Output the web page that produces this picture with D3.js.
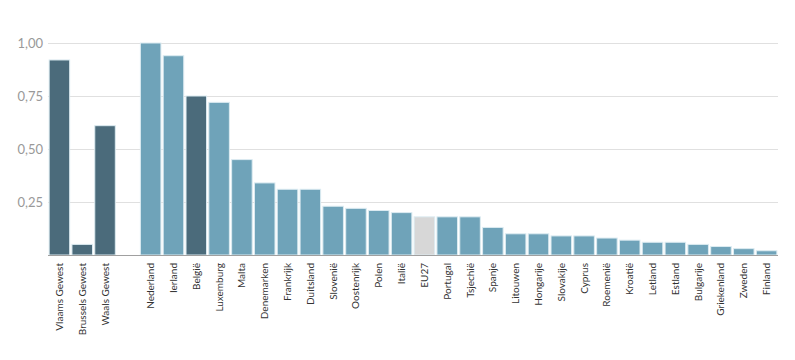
<!DOCTYPE html>
<html><head><meta charset="utf-8">
<script src="https://cdn.jsdelivr.net/npm/d3@7"></script>
<style>body{margin:0;background:#fff;}svg{display:block;font-family:Lato,"Open Sans",sans-serif;}</style>
</head><body>
<svg id="c" width="795" height="360"></svg>
<script>
const categories = ["Vlaams Gewest","Brussels Gewest","Waals Gewest","","Nederland","Ierland","België","Luxemburg","Malta","Denemarken","Frankrijk","Duitsland","Slovenië","Oostenrijk","Polen","Italië","EU27","Portugal","Tsjechië","Spanje","Litouwen","Hongarije","Slovakije","Cyprus","Roemenië","Kroatië","Letland","Estland","Bulgarije","Griekenland","Zweden","Finland"];
const values = [0.92,0.05,0.61,null,1.00,0.94,0.75,0.72,0.45,0.34,0.31,0.31,0.23,0.22,0.21,0.20,0.18,0.18,0.18,0.13,0.10,0.10,0.09,0.09,0.08,0.07,0.06,0.06,0.05,0.04,0.03,0.02];
const groups = ["be","be","be",null,"eu","eu","be","eu","eu","eu","eu","eu","eu","eu","eu","eu","avg","eu","eu","eu","eu","eu","eu","eu","eu","eu","eu","eu","eu","eu","eu","eu"];
const yTicks = [0.25,0.50,0.75,1.00];

const colors = {be:"#4b6b7b", eu:"#6fa3b9", avg:"#d7d7d7"};
const svg = d3.select("#c");
const m = {l:48, r:17, t:43, b:105};
const W = 795, H = 360;
const x = d3.scaleBand().domain(categories.map((d,i)=>i)).range([m.l, W-m.r]).paddingInner(0.1).paddingOuter(0.05);
const y = d3.scaleLinear().domain([0,1]).range([H-m.b, m.t]);

const g = svg.append("g");
g.selectAll("line.grid").data(yTicks).join("line")
  .attr("x1", m.l).attr("x2", W-m.r)
  .attr("y1", d=>y(d)+0.5).attr("y2", d=>y(d)+0.5)
  .attr("stroke", "#e0e0e0").attr("stroke-width",1);
g.selectAll("text.yl").data(yTicks).join("text")
  .attr("x", m.l-5).attr("y", d=>y(d)).attr("dy","0.35em")
  .attr("text-anchor","end").attr("fill","#999").attr("font-size",13)
  .text(d=>d3.format(".2f")(d).replace(".",","));

const data = categories.map((c,i)=>({c, v:values[i], g:groups[i], i})).filter(d=>d.v!==null);
g.selectAll("rect").data(data).join("rect")
  .attr("x", d=>x(d.i)).attr("width", x.bandwidth())
  .attr("y", d=>y(d.v)).attr("height", d=>y(0)-y(d.v))
  .attr("fill", d=>colors[d.g]).attr("stroke","#dcebf1").attr("stroke-width",1);

g.append("line").attr("x1", m.l).attr("x2", W-m.r)
  .attr("y1", y(0)+0.5).attr("y2", y(0)+0.5).attr("stroke","#a0a0a0").attr("stroke-width",1);

g.selectAll("text.xl").data(data).join("text")
  .attr("transform", d=>`translate(${x(d.i)+x.bandwidth()/2+3.5},${y(0)+8}) rotate(-90)`)
  .attr("text-anchor","end").attr("fill","#333").attr("font-size",10)
  .text(d=>d.c);
</script>
</body></html>
